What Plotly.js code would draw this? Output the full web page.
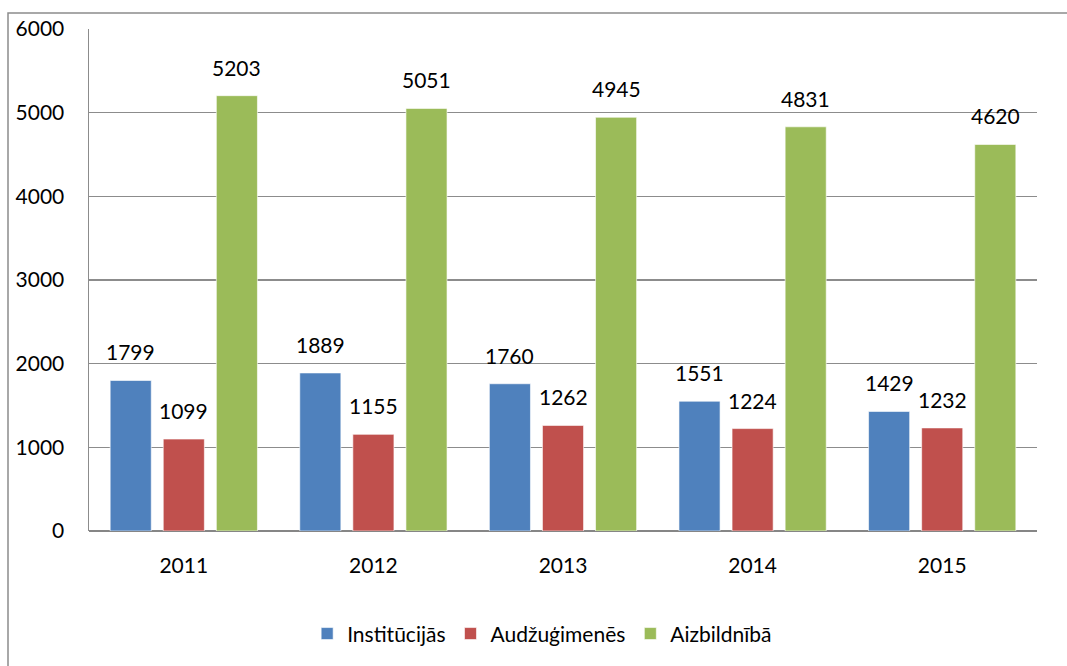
<!DOCTYPE html>
<html><head><meta charset="utf-8">
<script src="https://cdn.plot.ly/plotly-3.0.1.min.js"></script>
<style>html,body{margin:0;padding:0;background:#fff;}#c{width:1067px;height:666px;}</style>
</head><body><div id="c"></div>
<script>
const years = ['2011','2012','2013','2014','2015'];
const institucijas = [1799, 1889, 1760, 1551, 1429];
const audzugimenes = [1099, 1155, 1262, 1224, 1232];
const aizbildniba = [5203, 5051, 4945, 4831, 4620];
const seriesNames = ['Institūcijās', 'Audžuģimenēs', 'Aizbildnībā'];
const colors = ['#4F81BD', '#C0504D', '#9BBB59'];
const yTicks = [0, 1000, 2000, 3000, 4000, 5000, 6000];

const font = "Lato, sans-serif";
const allSeries = [institucijas, audzugimenes, aizbildniba];
const data = allSeries.map((vals, i) => ({
  type: 'bar', x: years, y: vals, name: seriesNames[i],
  marker: {color: colors[i], line: {color: 'rgba(255,255,255,0.6)', width: 1}}
}));

// bar slot width in px (plot width / categories * group fraction / series count)
const plotW = 1067 - 89 - 30;
const bargap = 0.16;
const slot = plotW / years.length * (1 - bargap) / allSeries.length;
const annotations = [];
allSeries.forEach((vals, i) => {
  vals.forEach((v, j) => {
    annotations.push({x: j, y: v, xref: 'x', yref: 'y', text: String(v),
      showarrow: false, xanchor: 'center', yanchor: 'bottom',
      xshift: (i - 1) * slot, yshift: 14,
      font: {family: font, size: 21, color: '#000'}});
  });
});

const layout = {
  width: 1067, height: 666,
  margin: {l: 89, r: 30, t: 29, b: 135},
  paper_bgcolor: '#fff', plot_bgcolor: '#fff',
  barmode: 'group', bargap: bargap, bargroupgap: 0.226,
  font: {family: font, size: 21, color: '#000'},
  xaxis: {type: 'category', range: [-0.5, years.length - 0.5], showgrid: false, ticks: '', showline: false, automargin: false,
    tickfont: {family: font, size: 21}, ticklabelstandoff: 20},
  yaxis: {range: [0, 6000], tickvals: yTicks, ticktext: yTicks.map(String), automargin: false,
    showgrid: true, gridcolor: '#8c8c8c', gridwidth: 1.5, zeroline: true, zerolinecolor: '#868686', zerolinewidth: 2,
    showline: true, linecolor: '#8c8c8c', linewidth: 1.5, ticks: '',
    tickfont: {family: font, size: 21}, ticklabelstandoff: 19},
  showlegend: true,
  legend: {orientation: 'h', x: 0.478, xanchor: 'center', y: -0.205, yanchor: 'middle',
    font: {family: font, size: 21}, itemwidth: 30, traceorder: 'normal'},
  annotations: annotations,
  shapes: [{type: 'rect', xref: 'paper', yref: 'paper',
    x0: -81/948, x1: 1.1, y0: -0.5, y1: 1 + 16/502,
    line: {color: '#8c8c8c', width: 1.5}, layer: 'below'}]
};
Plotly.newPlot('c', data, layout, {displayModeBar: false, staticPlot: true});
</script></body></html>
